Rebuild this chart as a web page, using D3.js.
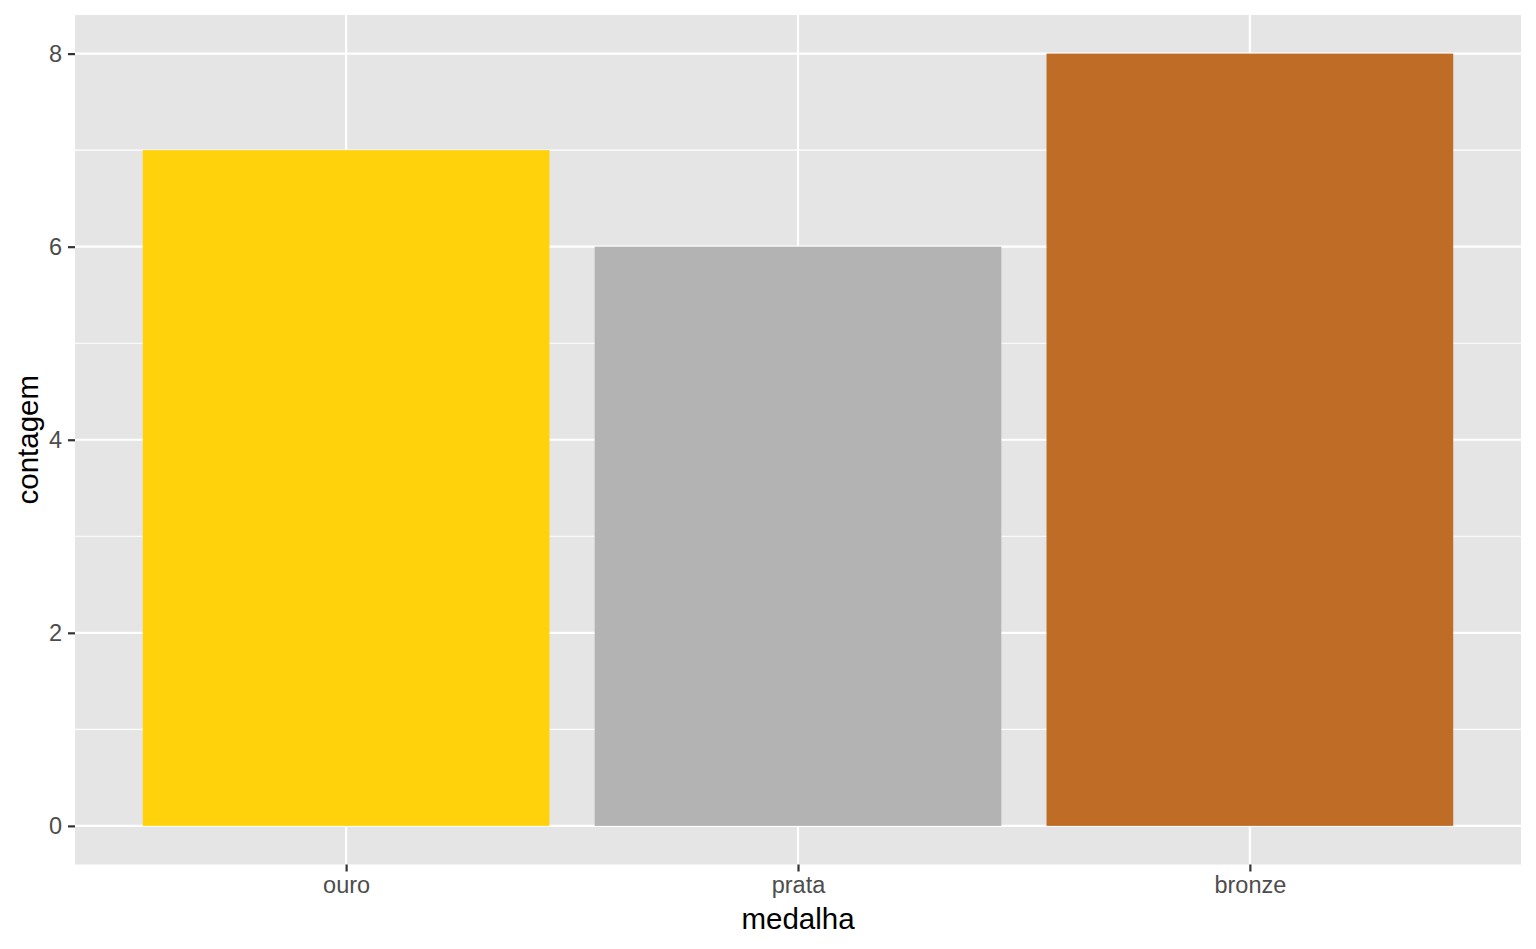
<!DOCTYPE html>
<html><head><meta charset="utf-8">
<script src="https://cdn.jsdelivr.net/npm/d3@7"></script>
<style>body{margin:0;background:#fff}svg{display:block}text{font-family:"Liberation Sans",Arial,sans-serif}</style>
</head><body>
<script>
const categories = ["ouro", "prata", "bronze"];
const counts = [7, 6, 8];
const barColors = ["#FFD20C", "#B3B3B3", "#BF6C27"];
const yTicks = [0, 2, 4, 6, 8];
const yMinor = [1, 3, 5, 7];

(function(){
const W = 1536, H = 949;
const pL = 75, pR = 1521, pT = 15, pB = 864.5;
const svg = d3.select("body").append("svg").attr("width", W).attr("height", H);

// ggplot discrete: each category occupies 1 unit, expansion 0.6 on each side
const step = (pR - pL) / 3.2;
const xc = d3.scalePoint().domain(categories).range([pL + step*0.6, pR - step*0.6]);
const y = d3.scaleLinear().domain([-0.4, 8.4]).range([pB, pT]);

svg.append("rect").attr("x", pL).attr("y", pT).attr("width", pR-pL).attr("height", pB-pT).attr("fill", "#E5E5E5");

const g = svg.append("g");
g.selectAll(".minor").data(yMinor).enter().append("line")
  .attr("x1", pL).attr("x2", pR).attr("y1", d => y(d)).attr("y2", d => y(d))
  .attr("stroke", "#fff").attr("stroke-width", 1.1);
g.selectAll(".major").data(yTicks).enter().append("line")
  .attr("x1", pL).attr("x2", pR).attr("y1", d => y(d)).attr("y2", d => y(d))
  .attr("stroke", "#fff").attr("stroke-width", 2.2);
g.selectAll(".vmajor").data(categories).enter().append("line")
  .attr("x1", d => xc(d)).attr("x2", d => xc(d)).attr("y1", pT).attr("y2", pB)
  .attr("stroke", "#fff").attr("stroke-width", 2.2);

svg.selectAll(".bar").data(categories).enter().append("rect")
  .attr("x", d => xc(d) - step*0.45).attr("width", step*0.9)
  .attr("y", (d,i) => y(counts[i])).attr("height", (d,i) => y(0) - y(counts[i]))
  .attr("fill", (d,i) => barColors[i]);

const ya = svg.append("g").attr("transform", `translate(${pL},0)`)
  .call(d3.axisLeft(y).tickValues(yTicks).tickSize(7).tickPadding(6).tickFormat(d3.format("d")));
ya.select(".domain").remove();
ya.selectAll(".tick line").attr("stroke", "#333").attr("stroke-width", 2.2);
ya.selectAll(".tick text").attr("fill", "#4D4D4D").style("font-size", "23.5px");

const xa = svg.append("g").attr("transform", `translate(0,${pB})`)
  .call(d3.axisBottom(xc).tickSize(7).tickPadding(5));
xa.select(".domain").remove();
xa.selectAll(".tick line").attr("stroke", "#333").attr("stroke-width", 2.2);
xa.selectAll(".tick text").attr("fill", "#4D4D4D").style("font-size", "23.5px");

svg.append("text").attr("x", (pL+pR)/2).attr("y", 929).attr("text-anchor", "middle")
  .style("font-size", "29.5px").attr("fill", "#000").text("medalha");
svg.append("text").attr("transform", `translate(38,${(pT+pB)/2}) rotate(-90)`).attr("text-anchor", "middle")
  .style("font-size", "29.5px").attr("fill", "#000").text("contagem");
})();
</script>
</body></html>
